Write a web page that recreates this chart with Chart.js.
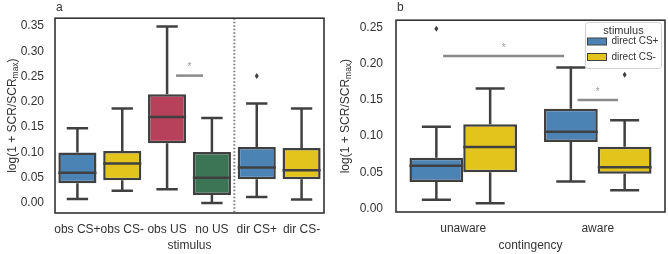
<!DOCTYPE html>
<html>
<head>
<meta charset="utf-8">
<script src="https://cdn.jsdelivr.net/npm/chart.js@4"></script>
<style>
  body { margin: 0; background: #fff; }
  .wrap { position: absolute; top: 0; width: 334px; height: 254px; }
</style>
</head>
<body>
<div class="wrap" style="left:0"><canvas id="chartA" width="334" height="254"></canvas></div>
<div class="wrap" style="left:334px"><canvas id="chartB" width="334" height="254"></canvas></div>
<script>
// panel a: one box per stimulus
const catsA = ['obs CS+', 'obs CS-', 'obs US', 'no US', 'dir CS+', 'dir CS-'];
const q1A  = [0.039, 0.045, 0.118, 0.016, 0.047, 0.047];
const medA = [0.060, 0.078, 0.170, 0.050, 0.070, 0.065];
const q3A  = [0.100, 0.103, 0.215, 0.101, 0.111, 0.109];
const loA  = [0.008, 0.024, 0.027, 0.000, 0.012, 0.007];
const hiA  = [0.148, 0.187, 0.349, 0.168, 0.197, 0.187];
const outA = [[], [], [], [], [0.251], []];
const colorsA = ['#4b84b4', '#e2c41c', '#b7405b', '#3c7555', '#4b84b4', '#e2c41c'];
const yTicksA = [0, 0.05, 0.10, 0.15, 0.20, 0.25, 0.30, 0.35];

// panel b: grouped by contingency, hue = stimulus
const catsB = ['unaware', 'aware'];
const q1Plus  = [0.0365, 0.092];
const medPlus = [0.059, 0.106];
const q3Plus  = [0.070, 0.138];
const loPlus  = [0.012, 0.037];
const hiPlus  = [0.113, 0.195];
const outPlus = [[0.249], []];
const q1Minus  = [0.050, 0.048];
const medMinus = [0.085, 0.057];
const q3Minus  = [0.1165, 0.0853];
const loMinus  = [0.007, 0.025];
const hiMinus  = [0.166, 0.122];
const outMinus = [[], [0.185]];
const yTicksB = [0, 0.05, 0.10, 0.15, 0.20, 0.25];

// significance bars: [from category index, to category index, y value]
const sigA = [[2.2, 2.8, 0.252]];
const sigB = [[-0.15, 0.75, 0.211], [0.85, 1.15, 0.15]];

const FONT = "'Liberation Sans', Arial, sans-serif";
const EDGE = '#404040';
const TEXT = '#333';

function drawYTitle(ctx, cx, cy) {
  ctx.save();
  ctx.translate(cx, cy);
  ctx.rotate(-Math.PI / 2);
  ctx.fillStyle = TEXT;
  ctx.textBaseline = 'middle';
  const main = 'log(1 + SCR/SCR', sub = 'max', end = ')';
  ctx.font = '12px ' + FONT;
  const w1 = ctx.measureText(main).width, w3 = ctx.measureText(end).width;
  ctx.font = '8.5px ' + FONT;
  const w2 = ctx.measureText(sub).width;
  let x = -(w1 + w2 + w3) / 2;
  ctx.textAlign = 'left';
  ctx.font = '12px ' + FONT;
  ctx.fillText(main, x, 0);
  ctx.font = '8.5px ' + FONT;
  ctx.fillText(sub, x + w1, 3);
  ctx.font = '12px ' + FONT;
  ctx.fillText(end, x + w1 + w2, 0);
  ctx.restore();
}

const boxPlugin = {
  id: 'boxes',
  afterDatasetsDraw(chart) {
    const ctx = chart.ctx, y = chart.scales.y, xs = chart.scales.x;
    const area = chart.chartArea;
    const opts = chart.options.plugins.boxes;
    ctx.save();
    if (opts.divider != null) {
      const dx = xs.getPixelForValue(opts.divider);
      ctx.strokeStyle = '#7a7a7a';
      ctx.lineWidth = 2;
      ctx.setLineDash([1.5, 2]);
      ctx.beginPath();
      ctx.moveTo(dx, area.top);
      ctx.lineTo(dx, area.bottom);
      ctx.stroke();
      ctx.setLineDash([]);
    }
    chart.data.datasets.forEach((ds, di) => {
      const meta = chart.getDatasetMeta(di);
      meta.data.forEach((bar, j) => {
        const x = bar.x, w = bar.width, cap = w * opts.cap;
        const top = y.getPixelForValue(ds.data[j][1]);
        const bot = y.getPixelForValue(ds.data[j][0]);
        const hi = y.getPixelForValue(ds.hi[j]);
        const lo = y.getPixelForValue(ds.lo[j]);
        const md = y.getPixelForValue(ds.med[j]);
        ctx.strokeStyle = EDGE;
        ctx.lineWidth = 2.5;
        ctx.beginPath();
        ctx.moveTo(x, top); ctx.lineTo(x, hi);
        ctx.moveTo(x - cap, hi); ctx.lineTo(x + cap, hi);
        ctx.moveTo(x, bot); ctx.lineTo(x, lo);
        ctx.moveTo(x - cap, lo); ctx.lineTo(x + cap, lo);
        ctx.moveTo(x - w / 2, md); ctx.lineTo(x + w / 2, md);
        ctx.stroke();
        ctx.fillStyle = EDGE;
        ds.out[j].forEach(v => {
          const py = y.getPixelForValue(v);
          ctx.beginPath();
          ctx.moveTo(x, py - 3); ctx.lineTo(x + 2, py);
          ctx.lineTo(x, py + 3); ctx.lineTo(x - 2, py);
          ctx.closePath();
          ctx.fill();
        });
      });
    });
    // significance markers
    opts.sig.forEach(([a, b, v]) => {
      const x1 = xs.getPixelForValue(a), x2 = xs.getPixelForValue(b);
      const py = y.getPixelForValue(v);
      ctx.strokeStyle = '#8a8a8a';
      ctx.lineWidth = 2.5;
      ctx.beginPath();
      ctx.moveTo(x1, py); ctx.lineTo(x2, py);
      ctx.stroke();
      ctx.fillStyle = '#999';
      ctx.font = '10px ' + FONT;
      ctx.textAlign = 'center';
      ctx.textBaseline = 'middle';
      ctx.fillText('*', (x1 + x2) / 2, py - 8);
    });
    ctx.restore();
  },
  afterDraw(chart) {
    const ctx = chart.ctx, area = chart.chartArea;
    const opts = chart.options.plugins.boxes;
    ctx.save();
    ctx.strokeStyle = '#333';
    ctx.lineWidth = 1.6;
    ctx.strokeRect(area.left, area.top, area.right - area.left, area.bottom - area.top);
    // panel letter
    ctx.fillStyle = TEXT;
    ctx.font = '12px ' + FONT;
    ctx.textAlign = 'left';
    ctx.textBaseline = 'middle';
    ctx.fillText(opts.letter, area.left + 1, 8);
    // axis titles
    ctx.textAlign = 'center';
    ctx.fillText(opts.xTitle, (area.left + area.right) / 2, 246);
    drawYTitle(ctx, opts.yTitleX, (area.top + area.bottom) / 2);
    // legend
    if (opts.legend) {
      const lx = 251.5, ly = 22.5, lw = 76, lh = 46;
      ctx.fillStyle = 'rgba(255,255,255,0.85)';
      ctx.strokeStyle = '#d0d0d0';
      ctx.lineWidth = 1;
      ctx.beginPath();
      ctx.roundRect(lx, ly, lw, lh, 3);
      ctx.fill();
      ctx.stroke();
      ctx.fillStyle = TEXT;
      ctx.font = '11px ' + FONT;
      ctx.textAlign = 'center';
      ctx.fillText('stimulus', lx + lw / 2, ly + 8);
      ctx.font = '10px ' + FONT;
      ctx.textAlign = 'left';
      chart.data.datasets.forEach((ds, i) => {
        const cy = ly + 19 + i * 15.5;
        ctx.fillStyle = ds.backgroundColor;
        ctx.fillRect(lx + 2, cy - 3.5, 19, 7);
        ctx.strokeStyle = EDGE;
        ctx.strokeRect(lx + 2, cy - 3.5, 19, 7);
        ctx.fillStyle = TEXT;
        ctx.fillText(ds.label, lx + 26, cy);
      });
    }
    ctx.restore();
  }
};

function makeOptions(cfg) {
  return {
    responsive: false,
    animation: false,
    layout: { padding: { left: 0, right: cfg.right, top: 18, bottom: 0 } },
    plugins: {
      legend: { display: false },
      tooltip: { enabled: false },
      boxes: cfg.boxes
    },
    scales: {
      x: {
        grid: { display: false, drawTicks: false },
        border: { display: false },
        ticks: { color: TEXT, font: { family: FONT, size: 12 }, padding: 9, autoSkip: false, maxRotation: 0 },
        afterFit: s => { s.height = cfg.xHeight; }
      },
      y: {
        min: cfg.min, max: cfg.max,
        grid: { display: false, drawTicks: false },
        border: { display: false },
        ticks: { color: TEXT, font: { family: FONT, size: 12 }, padding: cfg.tickPad, callback: v => v.toFixed(2) },
        afterBuildTicks: s => { s.ticks = cfg.ticks.map(v => ({ value: v })); },
        afterFit: s => { s.width = cfg.yWidth; }
      }
    }
  };
}

new Chart(document.getElementById('chartA'), {
  type: 'bar',
  data: {
    labels: catsA,
    datasets: [{
      data: q1A.map((v, i) => [v, q3A[i]]),
      med: medA, lo: loA, hi: hiA, out: outA,
      backgroundColor: colorsA,
      borderColor: EDGE,
      borderWidth: 2.5,
      borderSkipped: false,
      categoryPercentage: 0.85,
      barPercentage: 1
    }]
  },
  options: makeOptions({
    right: 10, xHeight: 41, yWidth: 55, tickPad: 11,
    min: -0.0198, max: 0.3656, ticks: yTicksA,
    boxes: { cap: 0.28, sig: sigA, divider: 3.5, letter: 'a', xTitle: 'stimulus', yTitleX: 13 }
  }),
  plugins: [boxPlugin]
});

new Chart(document.getElementById('chartB'), {
  type: 'bar',
  data: {
    labels: catsB,
    datasets: [{
      label: 'direct CS+',
      data: q1Plus.map((v, i) => [v, q3Plus[i]]),
      med: medPlus, lo: loPlus, hi: hiPlus, out: outPlus,
      backgroundColor: '#4b84b4',
      borderColor: EDGE, borderWidth: 2.5, borderSkipped: false,
      categoryPercentage: 0.8, barPercentage: 1
    }, {
      label: 'direct CS-',
      data: q1Minus.map((v, i) => [v, q3Minus[i]]),
      med: medMinus, lo: loMinus, hi: hiMinus, out: outMinus,
      backgroundColor: '#e2c41c',
      borderColor: EDGE, borderWidth: 2.5, borderSkipped: false,
      categoryPercentage: 0.8, barPercentage: 1
    }]
  },
  options: makeOptions({
    right: 3, xHeight: 42, yWidth: 62, tickPad: 13,
    min: -0.0051, max: 0.2607, ticks: yTicksB,
    boxes: { cap: 0.27, sig: sigB, divider: null, letter: 'b', xTitle: 'contingency', yTitleX: 12, legend: true }
  }),
  plugins: [boxPlugin]
});
</script>
</body>
</html>
